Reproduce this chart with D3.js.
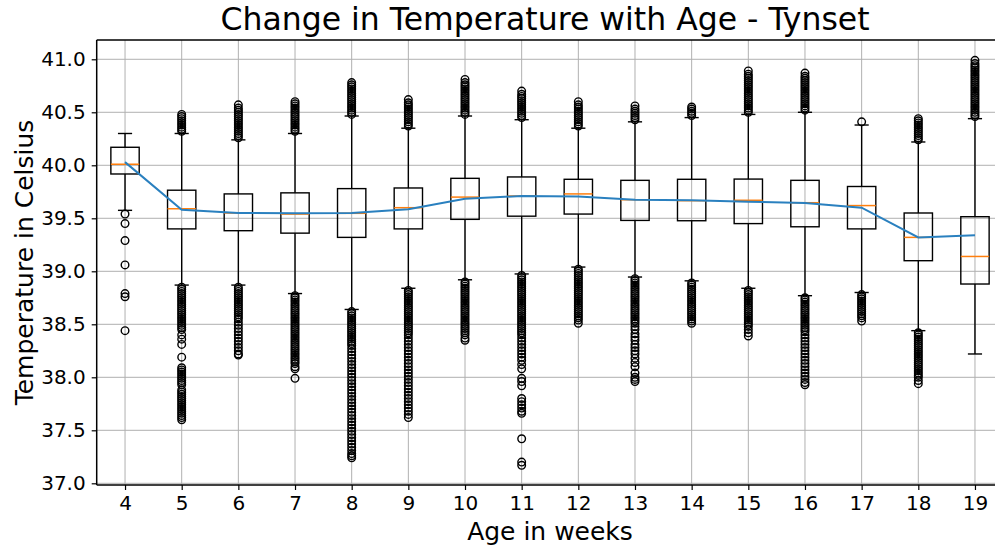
<!DOCTYPE html>
<html>
<head>
<meta charset="utf-8">
<script src="https://cdn.jsdelivr.net/npm/d3@7"></script>
<style>
  html, body { margin: 0; padding: 0; background: #fff; }
  svg { display: block; font-family: "DejaVu Sans", sans-serif; }
</style>
</head>
<body>
<svg id="chart" width="995" height="547"></svg>
<script>
// ---- data ----
const weeks = [4, 5, 6, 7, 8, 9, 10, 11, 12, 13, 14, 15, 16, 17, 18, 19];
const whiskerLow  = [39.575, 38.87, 38.87, 38.79, 38.64, 38.84, 38.92, 38.975, 39.04, 38.946, 38.91, 38.84, 38.77, 38.80, 38.44, 38.22];
const q1          = [39.918, 39.40, 39.383, 39.36, 39.32, 39.40, 39.49, 39.52, 39.54, 39.48, 39.477, 39.45, 39.42, 39.40, 39.10, 38.88];
const medians     = [40.01, 39.59, 39.55, 39.54, 39.547, 39.60, 39.70, 39.71, 39.73, 39.675, 39.666, 39.67, 39.647, 39.62, 39.32, 39.14];
const q3          = [40.17, 39.765, 39.73, 39.74, 39.78, 39.786, 39.877, 39.89, 39.868, 39.858, 39.868, 39.87, 39.858, 39.80, 39.55, 39.515];
const whiskerHigh = [40.30, 40.30, 40.24, 40.30, 40.465, 40.35, 40.465, 40.43, 40.35, 40.41, 40.45, 40.48, 40.50, 40.38, 40.22, 40.44];
const means       = [40.03, 39.58, 39.55, 39.547, 39.55, 39.585, 39.685, 39.71, 39.705, 39.675, 39.67, 39.657, 39.644, 39.60, 39.32, 39.34];
const yTicks = [37.0, 37.5, 38.0, 38.5, 39.0, 39.5, 40.0, 40.5, 41.0];
const outliers = [
  // 4
  [39.54, 39.45, 39.29, 39.06, 38.79, 38.76, 38.44],
  // 5
  [40.32,40.34,40.36,40.38,40.40,40.42,40.44,40.46,40.48,
   38.85,38.83,38.81,38.79,38.77,38.75,38.73,38.71,38.69,38.67,38.65,38.63,38.61,38.59,38.57,38.55,38.53,38.51,38.49,38.47,38.45,38.40,38.36,38.31,38.19,
   38.09,38.07,38.05,38.03,38.01,37.99,37.97,37.95,37.93,37.88,37.86,37.84,37.82,37.80,37.78,37.76,37.74,37.72,37.70,37.68,37.66,37.64,37.62,37.60],
  // 6
  [40.26,40.28,40.30,40.32,40.34,40.36,40.38,40.40,40.42,40.44,40.46,40.48,40.50,40.52,40.54,40.57,
   38.85,38.83,38.81,38.79,38.77,38.75,38.73,38.71,38.69,38.67,38.65,38.63,38.61,38.59,38.57,38.55,38.52,38.49,38.46,38.43,38.40,38.37,38.34,38.31,38.28,38.25,38.22,38.21],
  // 7
  [40.32,40.34,40.36,40.38,40.40,40.42,40.44,40.46,40.48,40.50,40.52,40.54,40.56,40.58,40.60,
   38.77,38.75,38.73,38.71,38.69,38.67,38.65,38.63,38.61,38.59,38.57,38.55,38.53,38.51,38.49,38.47,38.45,38.43,38.41,38.39,38.37,38.35,38.33,38.31,38.29,38.27,38.25,38.23,38.21,38.19,38.17,38.15,38.13,38.10,38.08,37.99],
  // 8
  [40.48,40.50,40.52,40.54,40.56,40.58,40.60,40.62,40.64,40.66,40.68,40.70,40.72,40.74,40.76,40.78,
   38.62,38.60,38.58,38.56,38.54,38.52,38.50,38.48,38.46,38.44,38.42,38.40,38.38,38.36,38.34,38.32,38.30,38.27,38.24,38.21,38.18,38.15,38.12,38.09,38.06,38.03,38.00,37.97,37.94,37.91,37.88,37.85,37.82,37.79,37.76,37.73,37.70,37.67,37.64,37.61,37.58,37.55,37.52,37.49,37.46,37.43,37.40,37.37,37.34,37.31,37.28,37.26,37.24],
  // 9
  [40.37,40.39,40.41,40.43,40.45,40.47,40.49,40.51,40.53,40.55,40.57,40.59,40.62,
   38.82,38.80,38.78,38.76,38.74,38.72,38.70,38.68,38.66,38.64,38.62,38.60,38.58,38.56,38.54,38.52,38.50,38.48,38.46,38.44,38.42,38.40,38.37,38.34,38.31,38.28,38.25,38.22,38.19,38.16,38.13,38.10,38.07,38.04,38.01,37.98,37.95,37.92,37.89,37.86,37.83,37.80,37.77,37.74,37.71,37.68,37.65,37.62],
  // 10
  [40.48,40.50,40.52,40.54,40.56,40.58,40.60,40.62,40.64,40.66,40.68,40.70,40.72,40.74,40.76,40.78,40.81,
   38.90,38.88,38.86,38.84,38.82,38.80,38.78,38.76,38.74,38.72,38.70,38.68,38.66,38.64,38.62,38.60,38.58,38.56,38.54,38.52,38.50,38.48,38.46,38.44,38.42,38.40,38.37,38.35],
  // 11
  [40.45,40.47,40.49,40.51,40.53,40.55,40.57,40.59,40.61,40.63,40.65,40.67,40.70,
   38.96,38.94,38.92,38.90,38.88,38.86,38.84,38.82,38.80,38.78,38.76,38.74,38.72,38.70,38.68,38.66,38.64,38.62,38.60,38.58,38.56,38.54,38.52,38.50,38.48,38.46,38.44,38.42,38.40,38.37,38.34,38.31,38.28,38.25,38.22,38.19,38.16,38.12,38.08,37.99,37.96,37.92,37.80,37.77,37.74,37.71,37.68,37.66,37.42,37.20,37.17],
  // 12
  [40.37,40.39,40.41,40.43,40.45,40.47,40.49,40.51,40.53,40.55,40.57,40.60,
   39.02,39.00,38.98,38.96,38.94,38.92,38.90,38.88,38.86,38.84,38.82,38.80,38.78,38.76,38.74,38.72,38.70,38.68,38.66,38.64,38.62,38.60,38.58,38.56,38.54,38.51],
  // 13
  [40.43,40.45,40.47,40.49,40.51,40.53,40.56,
   38.93,38.91,38.89,38.87,38.85,38.83,38.81,38.79,38.77,38.75,38.73,38.71,38.69,38.67,38.65,38.63,38.61,38.59,38.57,38.55,38.53,38.51,38.48,38.45,38.41,38.38,38.35,38.31,38.28,38.25,38.22,38.18,38.14,38.10,38.04,38.00,37.98,37.96],
  // 14
  [40.47,40.49,40.51,40.53,40.55,
   38.89,38.87,38.85,38.83,38.81,38.79,38.77,38.75,38.73,38.71,38.69,38.67,38.65,38.63,38.61,38.59,38.57,38.55,38.53,38.51],
  // 15
  [40.50,40.52,40.54,40.56,40.58,40.60,40.62,40.64,40.66,40.68,40.70,40.72,40.74,40.76,40.78,40.80,40.82,40.84,40.86,40.89,
   38.82,38.80,38.78,38.76,38.74,38.72,38.70,38.68,38.66,38.64,38.62,38.60,38.58,38.56,38.54,38.52,38.50,38.48,38.45,38.42,38.39],
  // 16
  [40.52,40.54,40.56,40.58,40.60,40.62,40.64,40.66,40.68,40.70,40.72,40.74,40.76,40.78,40.80,40.82,40.84,40.87,
   38.75,38.73,38.71,38.69,38.67,38.65,38.63,38.61,38.59,38.57,38.55,38.53,38.51,38.49,38.47,38.45,38.43,38.40,38.37,38.34,38.31,38.28,38.25,38.22,38.19,38.16,38.13,38.10,38.07,38.04,38.01,37.98,37.95,37.93],
  // 17
  [40.41,
   38.78,38.76,38.74,38.72,38.70,38.68,38.66,38.64,38.62,38.60,38.58,38.56,38.53],
  // 18
  [40.24,40.26,40.28,40.30,40.32,40.34,40.36,40.38,40.40,40.42,40.44,
   38.42,38.40,38.38,38.36,38.34,38.32,38.30,38.28,38.26,38.24,38.22,38.20,38.18,38.16,38.14,38.12,38.10,38.08,38.06,38.04,38.02,38.00,37.97,37.94],
  // 19
  [40.46,40.48,40.50,40.52,40.54,40.56,40.58,40.60,40.62,40.64,40.66,40.68,40.70,40.72,40.74,40.76,40.78,40.80,40.82,40.84,40.86,40.88,40.90,40.92,40.94,40.96,40.99]
];

// ---- layout ----
const W = 995, H = 547;
const plot = { left: 96.7, right: 1003.3, top: 40, bottom: 485 };
const svg = d3.select("#chart");

const x = d3.scaleLinear().domain([3.5, 19.5]).range([plot.left, plot.right]);
const y = d3.scaleLinear().domain([36.984, 41.182]).range([plot.bottom, plot.top]);
const unit = x(5) - x(4);
const boxW = unit * 0.5;
const capW = unit * 0.25;

const gridColor = "#b0b0b0";

// grid
const grid = svg.append("g");
grid.selectAll("line.gx").data(weeks).join("line")
  .attr("x1", d => x(d)).attr("x2", d => x(d))
  .attr("y1", plot.top).attr("y2", plot.bottom)
  .attr("stroke", gridColor).attr("stroke-width", 1);
grid.selectAll("line.gy").data(yTicks).join("line")
  .attr("x1", plot.left).attr("x2", plot.right)
  .attr("y1", d => y(d)).attr("y2", d => y(d))
  .attr("stroke", gridColor).attr("stroke-width", 1);

const boxes = weeks.map((w, i) => ({
  w, lo: whiskerLow[i], q1: q1[i], med: medians[i], q3: q3[i], hi: whiskerHigh[i], out: outliers[i]
}));

const g = svg.append("g");
const stroke = "#000";
const sw = 1.4;

boxes.forEach(b => {
  const cx = x(b.w);
  // whiskers
  g.append("line").attr("x1", cx).attr("x2", cx).attr("y1", y(b.q1)).attr("y2", y(b.lo))
    .attr("stroke", stroke).attr("stroke-width", sw);
  g.append("line").attr("x1", cx).attr("x2", cx).attr("y1", y(b.q3)).attr("y2", y(b.hi))
    .attr("stroke", stroke).attr("stroke-width", sw);
  // caps
  g.append("line").attr("x1", cx - capW / 2).attr("x2", cx + capW / 2).attr("y1", y(b.lo)).attr("y2", y(b.lo))
    .attr("stroke", stroke).attr("stroke-width", sw);
  g.append("line").attr("x1", cx - capW / 2).attr("x2", cx + capW / 2).attr("y1", y(b.hi)).attr("y2", y(b.hi))
    .attr("stroke", stroke).attr("stroke-width", sw);
  // box
  g.append("rect").attr("x", cx - boxW / 2).attr("width", boxW)
    .attr("y", y(b.q3)).attr("height", y(b.q1) - y(b.q3))
    .attr("fill", "none").attr("stroke", stroke).attr("stroke-width", sw);
  // fliers
  g.append("g").selectAll("circle").data(b.out).join("circle")
    .attr("cx", cx).attr("cy", d => y(d)).attr("r", 3.8)
    .attr("fill", "none").attr("stroke", "#000").attr("stroke-width", 1.4);
});

// medians
boxes.forEach(b => {
  const cx = x(b.w);
  g.append("line").attr("x1", cx - boxW / 2).attr("x2", cx + boxW / 2)
    .attr("y1", y(b.med)).attr("y2", y(b.med))
    .attr("stroke", "#ff7f0e").attr("stroke-width", 1.5);
});

// mean line
const line = d3.line().x((d, i) => x(weeks[i])).y(d => y(d));
svg.append("path").datum(means).attr("d", line)
  .attr("fill", "none").attr("stroke", "#2a80bf").attr("stroke-width", 2);

// axes
const xAxis = d3.axisBottom(x).tickValues(weeks).tickFormat(d3.format("d")).tickSize(5).tickPadding(6);
const yAxis = d3.axisLeft(y).tickValues(yTicks).tickFormat(d3.format(".1f")).tickSize(5).tickPadding(6);

const gx = svg.append("g").attr("transform", `translate(0,${plot.bottom})`).call(xAxis);
const gy = svg.append("g").attr("transform", `translate(${plot.left},0)`).call(yAxis);
[gx, gy].forEach(a => {
  a.select(".domain").remove();
  a.selectAll(".tick line").attr("stroke", "#000").attr("stroke-width", 1.2);
  a.selectAll(".tick text").attr("font-family", "DejaVu Sans, sans-serif").attr("font-size", 20).attr("fill", "#000");
});

// spines
svg.append("line").attr("x1", plot.left).attr("x2", plot.right).attr("y1", plot.bottom).attr("y2", plot.bottom)
  .attr("stroke", "#000").attr("stroke-width", 1.5);
svg.append("line").attr("x1", plot.left).attr("x2", plot.right).attr("y1", plot.top).attr("y2", plot.top)
  .attr("stroke", "#000").attr("stroke-width", 1.5);
svg.append("line").attr("x1", plot.left).attr("x2", plot.left).attr("y1", plot.top).attr("y2", plot.bottom)
  .attr("stroke", "#000").attr("stroke-width", 1.5);
svg.append("line").attr("x1", plot.right).attr("x2", plot.right).attr("y1", plot.top).attr("y2", plot.bottom)
  .attr("stroke", "#000").attr("stroke-width", 1.5);

// titles
const midX = (plot.left + plot.right) / 2;
svg.append("text").attr("x", 545).attr("y", 30).attr("text-anchor", "middle")
  .attr("font-size", 31.5).attr("fill", "#000")
  .text("Change in Temperature with Age - Tynset");
svg.append("text").attr("x", midX).attr("y", 540).attr("text-anchor", "middle")
  .attr("font-size", 25).attr("fill", "#000")
  .text("Age in weeks");
svg.append("text").attr("transform", `translate(33,${(plot.top + plot.bottom) / 2}) rotate(-90)`)
  .attr("text-anchor", "middle").attr("font-size", 25).attr("fill", "#000")
  .text("Temperature in Celsius");
</script>
</body>
</html>
